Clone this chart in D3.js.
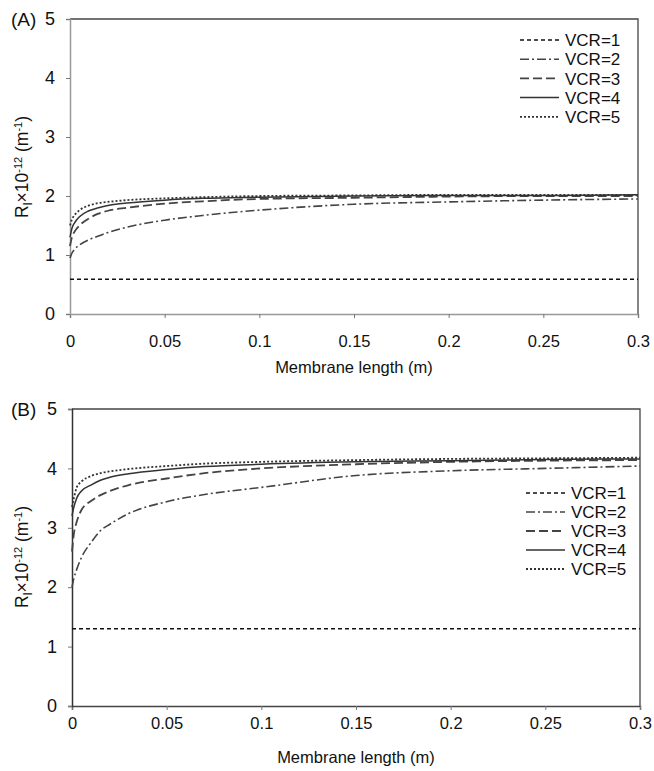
<!DOCTYPE html>
<html>
<head>
<meta charset="utf-8">
<script src="https://cdn.jsdelivr.net/npm/d3@7"></script>
<style>
  body { margin: 0; background: #fff; }
  text { font-family: "Liberation Sans", Arial, sans-serif; fill: #111; }
</style>
</head>
<body>
<script>
var w = 654;
var h = 771;

// membrane length positions (m)
var xs = [0, 0.001, 0.0025, 0.005, 0.01, 0.015, 0.02, 0.03, 0.05, 0.07, 0.1, 0.15, 0.2, 0.25, 0.3];

// panel A values (Rl x 10^-12)
var a_vcr1 = [0.59, 0.59, 0.59, 0.59, 0.59, 0.59, 0.59, 0.59, 0.59, 0.59, 0.59, 0.59, 0.59, 0.59, 0.59];
var a_vcr2 = [0.95, 1.03, 1.10, 1.17, 1.26, 1.32, 1.38, 1.47, 1.59, 1.67, 1.76, 1.86, 1.90, 1.93, 1.95];
var a_vcr3 = [1.15, 1.30, 1.40, 1.50, 1.62, 1.70, 1.75, 1.80, 1.87, 1.91, 1.95, 1.97, 1.99, 2.00, 2.00];
var a_vcr4 = [1.30, 1.45, 1.55, 1.65, 1.75, 1.80, 1.84, 1.88, 1.93, 1.96, 1.98, 2.00, 2.01, 2.01, 2.02];
var a_vcr5 = [1.50, 1.60, 1.68, 1.76, 1.84, 1.88, 1.90, 1.93, 1.96, 1.98, 2.00, 2.01, 2.02, 2.02, 2.02];

// panel B values
var b_vcr1 = [1.30, 1.30, 1.30, 1.30, 1.30, 1.30, 1.30, 1.30, 1.30, 1.30, 1.30, 1.30, 1.30, 1.30, 1.30];
var b_vcr2 = [2.00, 2.15, 2.30, 2.50, 2.75, 2.95, 3.06, 3.24, 3.44, 3.56, 3.68, 3.88, 3.96, 4.00, 4.04];
var b_vcr3 = [2.60, 2.90, 3.10, 3.30, 3.45, 3.55, 3.62, 3.72, 3.83, 3.92, 4.00, 4.07, 4.11, 4.13, 4.14];
var b_vcr4 = [3.20, 3.35, 3.50, 3.62, 3.72, 3.80, 3.85, 3.91, 3.98, 4.03, 4.07, 4.11, 4.13, 4.15, 4.16];
var b_vcr5 = [3.35, 3.50, 3.68, 3.78, 3.87, 3.92, 3.95, 3.99, 4.04, 4.08, 4.11, 4.14, 4.16, 4.17, 4.18];

var seriesNames = ["VCR=1", "VCR=2", "VCR=3", "VCR=4", "VCR=5"];
var xTicks = [0, 0.05, 0.1, 0.15, 0.2, 0.25, 0.3];
var yTicks = [0, 1, 2, 3, 4, 5];

// line look per series
var styles = [
    { dash: "4,3", color: "#111", width: 1.5 },
    { dash: "9,3,2,3", color: "#444", width: 1.6 },
    { dash: "9,4", color: "#444", width: 1.8 },
    { dash: null, color: "#333", width: 1.5 },
    { dash: "2,2", color: "#333", width: 1.8 }
];

var svg = d3.select("body")
            .append("svg")
            .attr("width", w)
            .attr("height", h);

function drawPanel(p) {
    var xScale = d3.scaleLinear().domain([0, 0.3]).range([p.left, p.right]);
    var yScale = d3.scaleLinear().domain([0, 5]).range([p.bottom, p.top]);
    var g = svg.append("g");

    // top and right border
    g.append("path")
     .attr("d", "M" + p.left + "," + p.top + "H" + p.right + "V" + p.bottom)
     .attr("fill", "none")
     .attr("stroke", "#444")
     .attr("stroke-width", 1.3);

    // x axis
    var xAxis = d3.axisBottom(xScale).tickValues(xTicks).tickSize(4).tickPadding(p.xPad)
                  .tickFormat(function (d) { return String(+d.toFixed(2)); });
    var gx = g.append("g")
              .attr("transform", "translate(0," + p.bottom + ")")
              .call(xAxis);
    gx.select(".domain").attr("stroke", p.axisColor).attr("stroke-width", 1.5);
    gx.selectAll(".tick line").attr("stroke", "#777");
    gx.selectAll("text").style("font-size", "16.5px").attr("fill", "#111");

    // y axis
    var yAxis = d3.axisLeft(yScale).tickValues(yTicks).tickSize(4).tickPadding(11)
                  .tickFormat(d3.format("d"));
    var gy = g.append("g")
              .attr("transform", "translate(" + p.left + ",0)")
              .call(yAxis);
    gy.select(".domain").attr("stroke", p.yAxisColor).attr("stroke-width", 1.5);
    gy.selectAll(".tick line").attr("stroke", "#777");
    gy.selectAll("text").style("font-size", "18px").attr("fill", "#111");

    // panel label
    g.append("text")
     .attr("x", 11)
     .attr("y", p.top + 7)
     .style("font-size", "19px")
     .text(p.label);

    // y axis title
    var yt = g.append("text")
              .attr("transform", "translate(28," + p.yTitleY + ") rotate(-90)")
              .attr("text-anchor", "middle")
              .style("font-size", "17.5px");
    yt.append("tspan").text("R");
    yt.append("tspan").attr("dy", 4).style("font-size", "13px").text("l");
    yt.append("tspan").attr("dy", -4).text("×10");
    yt.append("tspan").attr("dy", -6).style("font-size", "11px").text("-12");
    yt.append("tspan").attr("dy", 6).text(" (m");
    yt.append("tspan").attr("dy", -6).style("font-size", "11px").text("-1");
    yt.append("tspan").attr("dy", 6).text(")");

    // x axis title
    g.append("text")
     .attr("x", (p.left + p.right) / 2)
     .attr("y", p.xTitleY)
     .attr("text-anchor", "middle")
     .style("font-size", "16.5px")
     .text("Membrane length (m)");

    // curves
    var line = d3.line()
                 .x(function (d) { return xScale(d[0]); })
                 .y(function (d) { return yScale(d[1]); })
                 .curve(d3.curveMonotoneX);

    p.series.forEach(function (vals, i) {
        var pts = xs.map(function (x, j) { return [x, vals[j]]; });
        g.append("path")
         .datum(pts)
         .attr("d", line)
         .attr("fill", "none")
         .attr("stroke", styles[i].color)
         .attr("stroke-width", styles[i].width)
         .attr("stroke-dasharray", styles[i].dash);
    });

    // legend
    var lg = g.append("g");
    seriesNames.forEach(function (name, i) {
        var y = p.legY + i * p.legStep;
        lg.append("line")
          .attr("x1", p.legX).attr("x2", p.legX + 39)
          .attr("y1", y).attr("y2", y)
          .attr("stroke", styles[i].color)
          .attr("stroke-width", styles[i].width)
          .attr("stroke-dasharray", styles[i].dash);
        lg.append("text")
          .attr("x", p.legX + 45)
          .attr("y", y)
          .attr("dy", "0.36em")
          .style("font-size", "17px")
          .text(name);
    });
}

drawPanel({
    label: "(A)", left: 70, right: 638, top: 19, bottom: 314,
    xPad: 17, xTitleY: 373, yTitleY: 167,
    axisColor: "#999", yAxisColor: "#999",
    legX: 520, legY: 40, legStep: 19.2,
    series: [a_vcr1, a_vcr2, a_vcr3, a_vcr4, a_vcr5]
});

drawPanel({
    label: "(B)", left: 72, right: 640, top: 409, bottom: 706,
    xPad: 7, xTitleY: 763, yTitleY: 557,
    axisColor: "#444", yAxisColor: "#333",
    legX: 526, legY: 493, legStep: 19,
    series: [b_vcr1, b_vcr2, b_vcr3, b_vcr4, b_vcr5]
});
</script>
</body>
</html>
